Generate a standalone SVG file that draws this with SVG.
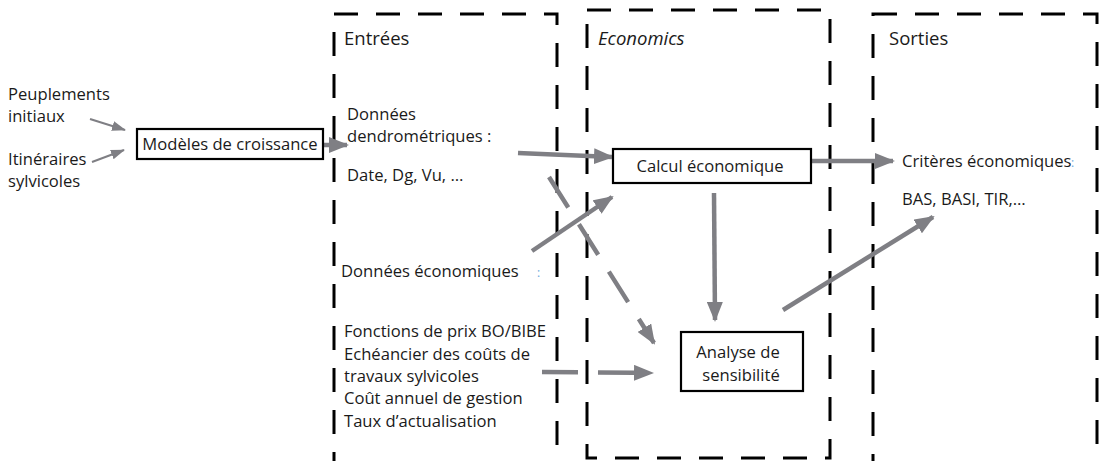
<svg xmlns="http://www.w3.org/2000/svg" width="1101" height="461" viewBox="0 0 1101 461">
<style>
.t{font-family:"Open Sans","Noto Sans",sans-serif;fill:#1a1a1a;font-size:16.6px}
.h{font-size:18.5px}
.frame{fill:none;stroke:#000;stroke-width:3;stroke-dasharray:24 18}
.box{fill:#fff;stroke:#000;stroke-width:2.2}
.c{stroke:#7f7f84;stroke-width:4.5;fill:none}
.thin{stroke:#7f7f84;stroke-width:2;fill:none}
.d{stroke-dasharray:36 20}
.blue{fill:#6fa8dc;font-size:12px}
</style>
<defs>
<marker id="ah" markerUnits="userSpaceOnUse" markerWidth="20" markerHeight="16" refX="18" refY="8" orient="auto"><path d="M0,0 L20,8 L0,16 Z" fill="#7f7f84"/></marker>
<marker id="as" markerUnits="userSpaceOnUse" markerWidth="14" markerHeight="10" refX="13" refY="5" orient="auto"><path d="M0,0 L14,5 L0,10 Z" fill="#7f7f84"/></marker>
</defs>
<g id="frames">
<rect class="frame" x="334" y="14" width="223" height="470"/>
<rect class="frame" x="587" y="10" width="243" height="448"/>
<rect class="frame" x="873" y="14" width="224" height="470"/>
</g>
<g id="connectors">
<line class="thin" x1="90" y1="119" x2="125" y2="130" marker-end="url(#as)"/>
<line class="thin" x1="92" y1="162" x2="124" y2="150" marker-end="url(#as)"/>
<line class="c" x1="323" y1="145" x2="347" y2="145" marker-end="url(#ah)"/>
<line class="c" x1="518" y1="153" x2="612" y2="157" marker-end="url(#ah)"/>
<line class="c" x1="811" y1="161" x2="893" y2="161" marker-end="url(#ah)"/>
<line class="c" x1="714" y1="193" x2="715" y2="320" marker-end="url(#ah)"/>
<line class="c" x1="783" y1="310" x2="933" y2="217" marker-end="url(#ah)"/>
<line class="c" x1="532" y1="251" x2="612" y2="197" marker-end="url(#ah)"/>
<line class="c d" x1="549" y1="177" x2="654" y2="343" marker-end="url(#ah)"/>
<line class="c d" x1="542" y1="372" x2="652" y2="373" marker-end="url(#ah)"/>
</g>
<g id="inputs-left">
<text class="t" x="8" y="100">Peuplements</text>
<text class="t" x="8" y="122">initiaux</text>
<text class="t" x="8" y="165">Itinéraires</text>
<text class="t" x="8" y="187">sylvicoles</text>
</g>
<g id="modeles">
<rect class="box" x="137" y="129" width="186" height="30"/>
<text class="t" x="230" y="149.5" text-anchor="middle" font-size="15">Modèles de croissance</text>
</g>
<g id="entrees">
<text class="t h" x="344" y="45">Entrées</text>
<text class="t" x="347" y="120">Données</text>
<text class="t" x="347" y="142">dendrométriques :</text>
<text class="t" x="347" y="181">Date, Dg, Vu, …</text>
<text class="t" x="341" y="277">Données économiques</text>
<text class="t blue" x="537" y="277">:</text>
<text class="t" x="344" y="337" font-size="17">Fonctions de prix BO/BIBE</text>
<text class="t" x="344" y="360" font-size="17">Echéancier des coûts de</text>
<text class="t" x="344" y="382" font-size="17">travaux sylvicoles</text>
<text class="t" x="344" y="404" font-size="17">Coût annuel de gestion</text>
<text class="t" x="344" y="427" font-size="17">Taux d’actualisation</text>
</g>
<g id="economics">
<text class="t h" x="598" y="45" font-style="italic" font-size="19.5">Economics</text>
</g>
<g id="calcul">
<rect class="box" x="613" y="149" width="198" height="34"/>
<text class="t" x="710" y="171.5" text-anchor="middle" font-size="15">Calcul économique</text>
</g>
<g id="analyse">
<rect class="box" x="681" y="332" width="122" height="59"/>
<text class="t" x="738" y="358" text-anchor="middle" font-size="18">Analyse de</text>
<text class="t" x="741" y="381" text-anchor="middle" font-size="18">sensibilité</text>
</g>
<g id="sorties">
<text class="t h" x="889" y="45">Sorties</text>
<text class="t" x="902" y="167">Critères économiques</text>
<text class="t blue" x="1071" y="167">:</text>
<text class="t" x="902" y="205" font-size="17.5">BAS, BASI, TIR,…</text>
</g>
</svg>
